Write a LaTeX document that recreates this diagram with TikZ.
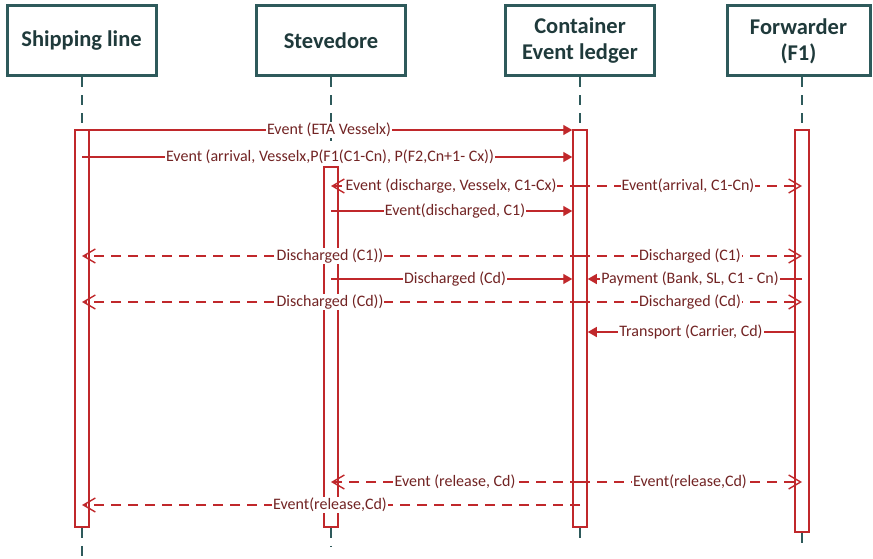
\documentclass[tikz,border=0pt]{standalone}
\usepackage{fontspec}
\setmainfont{Carlito}
\usetikzlibrary{arrows.meta}
\definecolor{msgred}{HTML}{C0282B}
\definecolor{msgtext}{HTML}{722424}
\definecolor{headline}{HTML}{2E5A5B}
\definecolor{headtext}{HTML}{1F3A3B}
\begin{document}
\begin{tikzpicture}[x=1pt,y=-1pt,
  head/.style={draw=headline, line width=3pt, fill=white, minimum width=149pt,
    minimum height=70pt, inner sep=0pt, align=center, text=headtext,
    font=\fontsize{22.5}{26}\selectfont\bfseries},
  lifeline/.style={draw=headline, line width=1.3pt, dash pattern=on 10pt off 8pt},
  bar/.style={draw=msgred, line width=1.5pt, fill=white, minimum width=14pt, inner sep=0pt},
  msg/.style={draw=msgred, line width=1.4pt},
  sync/.style={msg, -{Triangle[length=9pt,width=10pt]}},
  reply/.style={msg, dash pattern=on 10pt off 7pt,
    -{Straight Barb[length=12pt,width=14pt,line width=1.4pt]}},
  lbl/.style={fill=white, text=msgtext, inner xsep=1pt, inner ysep=1pt,
    font=\fontsize{16}{19}\selectfont}]
\useasboundingbox (0,0) rectangle (873,559);

% participants
\node[head] (sl)  at (81.5,41) {Shipping line};
\node[head] (st)  at (331,41)  {Stevedore};
\node[head] (led) at (580,41)  {Container\\Event ledger};
\node[head, minimum width=143pt] (fw) at (798.5,41) {Forwarder\\(F1)};

% activation bars (positions only; drawn after the lifelines)
\path node[bar, draw=none, fill=none, minimum height=397pt] (slbar)  at (82,328.5)  {}
      node[bar, draw=none, fill=none, minimum height=360pt] (stbar)  at (331,347)   {}
      node[bar, draw=none, fill=none, minimum height=397pt] (ledbar) at (580,328.5) {}
      node[bar, draw=none, fill=none, minimum height=402pt] (fwbar)  at (802,331)   {};

% lifeline ends
\coordinate (slend)  at (82,562);
\coordinate (stend)  at (331,546);
\coordinate (ledend) at (580,540);
\coordinate (fwend)  at (802,546);

% lifelines
\draw[lifeline] (slbar.center |- sl.south)   -- (slbar.north);
\draw[lifeline] (stbar.center |- st.south)   -- (stbar.north);
\draw[lifeline] (ledbar.center |- led.south) -- (ledbar.north);
\draw[lifeline] (fwbar.center |- fw.south)   -- (fwbar.north);
\draw[lifeline] (slbar.south)  -- (slend);
\draw[lifeline] (stbar.south)  -- (stend);
\draw[lifeline] (ledbar.south) -- (ledend);
\draw[lifeline] (fwbar.south)  -- (fwend);

% activation bars
\node[bar, minimum height=397pt] at (slbar)  {};
\node[bar, minimum height=360pt] at (stbar)  {};
\node[bar, minimum height=397pt] at (ledbar) {};
\node[bar, minimum height=402pt] at (fwbar)  {};

% messages
\draw[sync]  (slbar.east |- 0,130) -- (ledbar.west |- 0,130);
\node[lbl] (m1) at (329,130) {Event (ETA Vesselx)};

\draw[sync]  (slbar.center |- 0,157) -- (ledbar.west |- 0,157);
\node[lbl] (m2) at (330,157) {Event (arrival, Vesselx,P(F1(C1-Cn), P(F2,Cn+1- Cx))};

\draw[reply] (ledbar.center |- 0,186) -- (stbar.center |- 0,186);
\node[lbl] (m3) at (451,186) {Event (discharge, Vesselx, C1-Cx)};

\draw[reply] (ledbar.center |- 0,186) -- (fwbar.center |- 0,186);
\node[lbl] (m4) at (688,186) {Event(arrival, C1-Cn)};

\draw[sync]  (stbar.center |- 0,211) -- (ledbar.west |- 0,211);
\node[lbl] (m5) at (455,211) {Event(discharged, C1)};

\draw[reply] (ledbar.center |- 0,256) -- (slbar.center |- 0,256);
\node[lbl] (m6) at (330,256) {Discharged (C1))};
\draw[reply] (ledbar.center |- 0,256) -- (fwbar.center |- 0,256);
\node[lbl] (m7) at (690,256) {Discharged (C1)};

\draw[sync]  (stbar.center |- 0,279) -- (ledbar.west |- 0,279);
\node[lbl] (m8) at (455,279) {Discharged (Cd)};
\draw[sync]  (fwbar.center |- 0,279) -- (ledbar.east |- 0,279);
\node[lbl] (m9) at (690,279) {Payment (Bank, SL, C1 - Cn)};

\draw[reply] (ledbar.center |- 0,302) -- (slbar.center |- 0,302);
\node[lbl] (m10) at (330,302) {Discharged (Cd))};
\draw[reply] (ledbar.center |- 0,302) -- (fwbar.center |- 0,302);
\node[lbl] (m11) at (690,302) {Discharged (Cd)};

\draw[sync]  (fwbar.west |- 0,332) -- (ledbar.east |- 0,332);
\node[lbl] (m12) at (691,332) {Transport (Carrier, Cd)};

\draw[reply] (ledbar.center |- 0,482) -- (stbar.center |- 0,482);
\node[lbl] (m13) at (455,482) {Event (release, Cd)};
\draw[reply] (ledbar.center |- 0,482) -- (fwbar.center |- 0,482);
\node[lbl] (m14) at (690,482) {Event(release,Cd)};

\draw[reply] (ledbar.center |- 0,505) -- (slbar.center |- 0,505);
\node[lbl] (m15) at (330,505) {Event(release,Cd)};
\end{tikzpicture}
\end{document}
